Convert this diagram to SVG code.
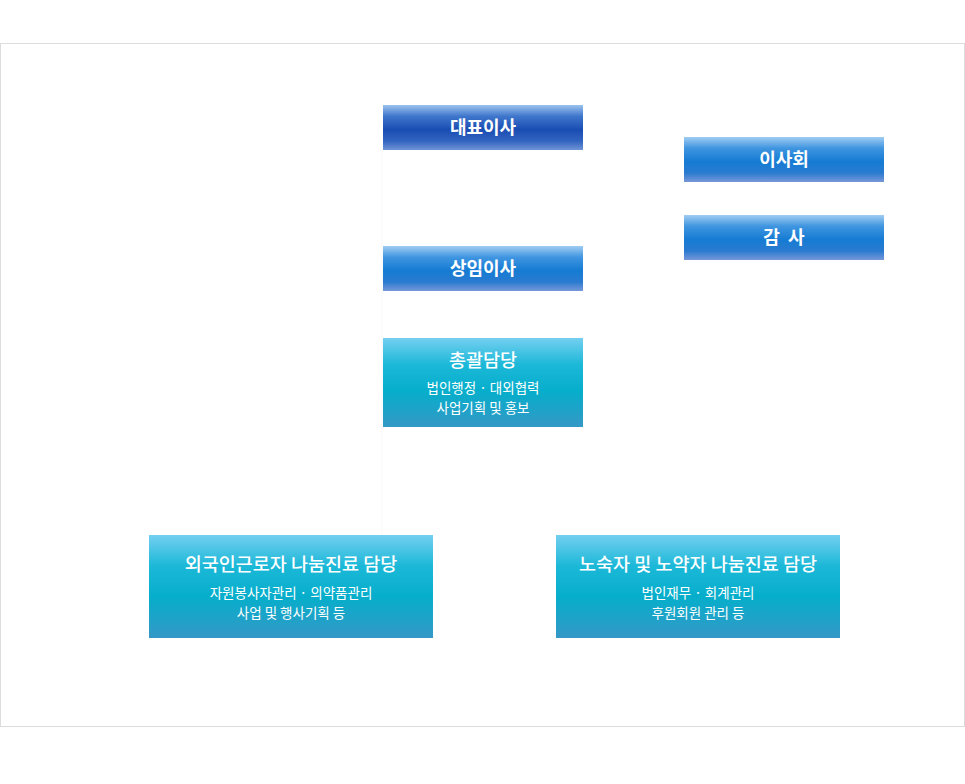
<svg xmlns="http://www.w3.org/2000/svg" width="965" height="784" viewBox="0 0 965 784">
<defs>
<linearGradient id="gDark" x1="0" y1="0" x2="0" y2="1">
<stop offset="0" stop-color="#9cc3ee"/>
<stop offset="0.25" stop-color="#3f76cc"/>
<stop offset="0.55" stop-color="#1a4db3"/>
<stop offset="0.8" stop-color="#3264c0"/>
<stop offset="1" stop-color="#7094d6"/>
</linearGradient>
<linearGradient id="gBlue" x1="0" y1="0" x2="0" y2="1">
<stop offset="0" stop-color="#a0cdf2"/>
<stop offset="0.25" stop-color="#3f95e0"/>
<stop offset="0.55" stop-color="#157bd3"/>
<stop offset="0.8" stop-color="#2a7bd0"/>
<stop offset="1" stop-color="#7797d8"/>
</linearGradient>
<linearGradient id="gCyan" x1="0" y1="0" x2="0" y2="1">
<stop offset="0" stop-color="#74cff0"/>
<stop offset="0.3" stop-color="#1cb8d8"/>
<stop offset="0.6" stop-color="#06aecb"/>
<stop offset="1" stop-color="#3598c6"/>
</linearGradient>
</defs>
<style>
.t{font-family:"Noto Sans CJK KR","Noto Sans",sans-serif;fill:#fff;text-anchor:middle;}
.h{font-size:18px;font-weight:bold;}
.h2{font-size:18.5px;font-weight:500;}
.s{font-size:13.5px;}
.con{stroke:#f8f8f8;stroke-width:1;fill:none;}
</style>
<rect x="0.5" y="43.5" width="964" height="683" fill="#fff" stroke="#dcdcdc"/>
<g id="connectors">
<line class="con" x1="382" y1="150" x2="382" y2="535"/>
</g>
<g id="ceo">
<rect x="383" y="105" width="200" height="45" fill="url(#gDark)"/>
<text class="t h" x="483" y="134">대표이사</text>
</g>
<g id="board">
<rect x="684" y="137" width="200" height="45" fill="url(#gBlue)"/>
<text class="t h" x="784" y="166">이사회</text>
</g>
<g id="audit">
<rect x="684" y="215" width="200" height="45" fill="url(#gBlue)"/>
<text class="t h" x="784" y="244" xml:space="preserve">감  사</text>
</g>
<g id="director">
<rect x="383" y="246" width="200" height="45" fill="url(#gBlue)"/>
<text class="t h" x="483" y="275">상임이사</text>
</g>
<g id="general">
<rect x="383" y="338" width="200" height="89" fill="url(#gCyan)"/>
<text class="t h2" x="483" y="367">총괄담당</text>
<text class="t s" x="483" y="393">법인행정 · 대외협력</text>
<text class="t s" x="483" y="413">사업기획 및 홍보</text>
</g>
<g id="foreign">
<rect x="149" y="535" width="284" height="103" fill="url(#gCyan)"/>
<text class="t h2" x="291" y="571">외국인근로자 나눔진료 담당</text>
<text class="t s" x="291" y="598">자원봉사자관리 · 의약품관리</text>
<text class="t s" x="291" y="618">사업 및 행사기획 등</text>
</g>
<g id="homeless">
<rect x="556" y="535" width="284" height="103" fill="url(#gCyan)"/>
<text class="t h2" x="698" y="571">노숙자 및 노약자 나눔진료 담당</text>
<text class="t s" x="698" y="598">법인재무 · 회계관리</text>
<text class="t s" x="698" y="618">후원회원 관리 등</text>
</g>
</svg>
